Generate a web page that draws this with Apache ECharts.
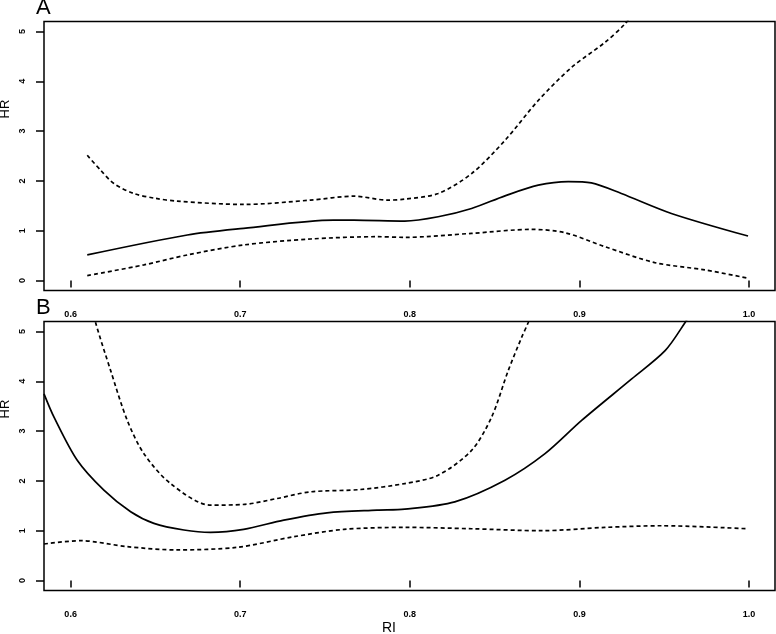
<!DOCTYPE html>
<html>
<head>
<meta charset="utf-8">
<script src="https://cdn.jsdelivr.net/npm/echarts@6/dist/echarts.min.js"></script>
<style>html,body{margin:0;padding:0;background:#fff}#c{width:776px;height:634px}</style>
</head>
<body>
<div id="c"></div>
<script>
// Panel A
const aFitRI = [0.6098,0.6688,0.702,0.755,0.767,0.797,0.8167,0.8364,0.8561,0.8757,0.8934,0.907,0.9247,0.9542,0.9994];
const aFitHR = [0.514,0.914,1.047,1.214,1.214,1.194,1.28,1.447,1.70,1.914,1.987,1.96,1.747,1.347,0.893];
const aUpRI = [0.6098,0.6177,0.6255,0.6373,0.6500,0.6628,0.702,0.7414,0.767,0.7866,0.797,0.8167,0.8364,0.8561,0.8757,0.8954,0.915,0.9267,0.935];
const aUpHR = [2.514,2.214,1.947,1.747,1.65,1.594,1.527,1.614,1.694,1.614,1.634,1.747,2.147,2.814,3.614,4.28,4.78,5.147,5.5];
const aLoRI = [0.6098,0.6432,0.6688,0.702,0.7414,0.7807,0.797,0.8364,0.8718,0.8914,0.915,0.9444,0.9739,0.9994];
const aLoHR = [0.10,0.314,0.514,0.714,0.834,0.88,0.867,0.947,1.027,0.96,0.68,0.36,0.214,0.047];
// Panel B
const bFitRI = [0.5843,0.5902,0.6039,0.6196,0.6354,0.6491,0.6668,0.6825,0.702,0.7257,0.7512,0.7807,0.797,0.8265,0.8561,0.8797,0.9013,0.9308,0.9505,0.9623,0.97];
const bFitHR = [3.747,3.28,2.414,1.814,1.38,1.147,1.014,0.967,1.027,1.214,1.36,1.414,1.434,1.58,2.014,2.547,3.214,4.047,4.614,5.18,5.6];
const bUpRI = [0.612,0.6147,0.6236,0.6334,0.6432,0.6589,0.6825,0.702,0.7217,0.7414,0.7709,0.797,0.8167,0.8364,0.8482,0.858,0.8659,0.8698,0.873];
const bUpHR = [5.6,5.18,4.214,3.214,2.547,1.947,1.514,1.527,1.647,1.78,1.827,1.947,2.114,2.614,3.28,4.214,4.88,5.18,5.5];
const bLoRI = [0.5843,0.6059,0.6334,0.6628,0.6982,0.7316,0.7611,0.797,0.8364,0.8777,0.915,0.9483,0.9984];
const bLoHR = [0.734,0.80,0.68,0.614,0.667,0.88,1.027,1.067,1.04,1.0,1.067,1.10,1.04];
// Ticks
const xTicks = [0.6,0.7,0.8,0.9,1.0];
const yTicks = [0,1,2,3,4,5];

const zip = (xs, ys) => xs.map((x, i) => [x, ys[i]]);
const FONT = '"Liberation Sans", Arial, Helvetica, sans-serif';

function xAxis(gi) {
  return {
    type: 'value', gridIndex: gi, min: 0.5843, max: 1.0153,
    axisLine: { show: false },
    splitLine: { show: false },
    axisTick: { show: true, inside: false, length: 7, lineStyle: { color: '#000', width: 1.5 }, customValues: xTicks },
    axisLabel: { show: true, margin: 20, fontSize: 9, fontWeight: 'bold', color: '#000', fontFamily: FONT,
      customValues: xTicks, formatter: v => Number(v).toFixed(1) }
  };
}
function yAxis(gi) {
  return {
    type: 'value', gridIndex: gi, min: -0.2, max: 5.2,
    axisLine: { show: false },
    splitLine: { show: false },
    axisTick: { show: true, inside: false, length: 8, lineStyle: { color: '#000', width: 1.5 }, customValues: yTicks },
    axisLabel: { show: true, margin: 17, rotate: 90, fontSize: 9, fontWeight: 'bold', color: '#000', fontFamily: FONT,
      customValues: yTicks, formatter: v => String(Math.round(v)) }
  };
}
function line(name, data, gi, dashed) {
  return {
    name: name, type: 'line', xAxisIndex: gi, yAxisIndex: gi, data: data,
    showSymbol: false, smooth: 0.3, clip: true, silent: true,
    lineStyle: { color: '#000', width: 1.7, type: dashed ? [4, 3] : 'solid' }
  };
}

const chart = echarts.init(document.getElementById('c'), null, { renderer: 'canvas' });
chart.setOption({
  animation: false,
  backgroundColor: '#fff',
  grid: [
    { left: 44, top: 21.5, width: 731, height: 269, show: true, borderColor: '#000', borderWidth: 1.5, backgroundColor: 'transparent' },
    { left: 44, top: 321.5, width: 731, height: 269, show: true, borderColor: '#000', borderWidth: 1.5, backgroundColor: 'transparent' }
  ],
  xAxis: [xAxis(0), xAxis(1)],
  yAxis: [yAxis(0), yAxis(1)],
  series: [
    line('A fit', zip(aFitRI, aFitHR), 0, false),
    line('A upper', zip(aUpRI, aUpHR), 0, true),
    line('A lower', zip(aLoRI, aLoHR), 0, true),
    line('B fit', zip(bFitRI, bFitHR), 1, false),
    line('B upper', zip(bUpRI, bUpHR), 1, true),
    line('B lower', zip(bLoRI, bLoHR), 1, true)
  ],
  graphic: [
    { type: 'text', left: 36, top: -3, style: { text: 'A', fontSize: 22, fontFamily: FONT, fill: '#000' } },
    { type: 'text', left: 36, top: 297, style: { text: 'B', fontSize: 22, fontFamily: FONT, fill: '#000' } },
    { type: 'text', x: 5, y: 109, rotation: Math.PI / 2, style: { text: 'HR', fontSize: 13, fontFamily: FONT, fill: '#000', align: 'center', verticalAlign: 'middle' } },
    { type: 'text', x: 5, y: 409, rotation: Math.PI / 2, style: { text: 'HR', fontSize: 13, fontFamily: FONT, fill: '#000', align: 'center', verticalAlign: 'middle' } },
    { type: 'text', x: 389, y: 628, style: { text: 'RI', fontSize: 14, fontFamily: FONT, fill: '#000', align: 'center', verticalAlign: 'middle' } }
  ]
});
</script>
</body>
</html>
